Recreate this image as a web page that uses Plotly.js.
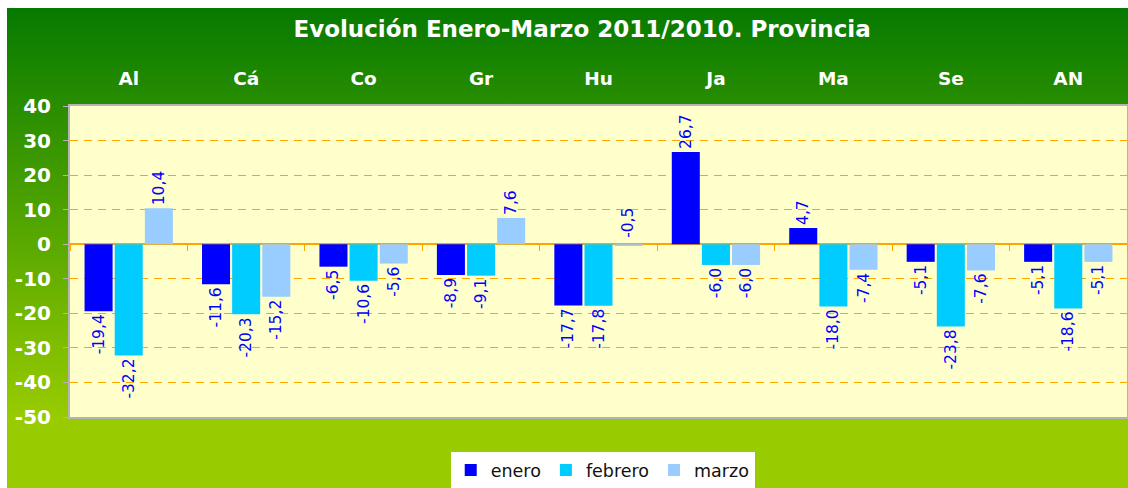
<!DOCTYPE html>
<html>
<head>
<meta charset="utf-8">
<script src="https://cdn.plot.ly/plotly-3.0.1.min.js"></script>
<style>
  html, body { margin: 0; padding: 0; background: #ffffff; }
  #chart {
    position: absolute; left: 7px; top: 8px; width: 1121px; height: 480px;
    background: linear-gradient(to bottom, #067a00 0%, #99cc00 86%, #99cc00 100%);
  }
</style>
</head>
<body>
<div id="chart"></div>
<script>
const categories = ["Al", "Cá", "Co", "Gr", "Hu", "Ja", "Ma", "Se", "AN"];
const enero   = [-19.4, -11.6, -6.5, -8.9, -17.7, 26.7,  4.7, -5.1,  -5.1];
const febrero = [-32.2, -20.3, -10.6, -9.1, -17.8, -6.0, -18.0, -23.8, -18.6];
const marzo   = [ 10.4, -15.2, -5.6,  7.6,  -0.5, -6.0, -7.4, -7.6,  -5.1];
const seriesNames = ["enero", "febrero", "marzo"];
const seriesColors = ["#0000ff", "#00ccff", "#99ccff"];
const yTicks = [40, 30, 20, 10, 0, -10, -20, -30, -40, -50];
const yMin = -50, yMax = 40;

const bargap = 0.23, bargroupgap = 0.07;
const labelFont = {family: "DejaVu Sans", size: 15.5, color: "#0000ff"};

// Small values that Excel places above the axis
function positions(vals) {
  return vals.map(v => (v < 0 && v > -1) ? "none" : "outside");
}

const allSeries = [enero, febrero, marzo];
const traces = allSeries.map((vals, i) => ({
  type: "bar",
  name: seriesNames[i],
  x: categories,
  y: vals,
  marker: {color: seriesColors[i]},
  texttemplate: "%{y:.1f}",
  textposition: positions(vals),
  textangle: -90,
  textfont: labelFont,
  constraintext: "none",
  cliponaxis: false,
  hoverinfo: "x+y"
}));

// dummy trace to host the zero-line tick axis
traces.push({type: "scatter", x: [], y: [], xaxis: "x2", yaxis: "y", showlegend: false, hoverinfo: "skip"});

// annotations for tiny negative values (drawn above zero like the original)
const annotations = [];
const plotW = 1121 - 63 - 1;
const catW = plotW / categories.length;
const slot = catW * (1 - bargap) / allSeries.length;
allSeries.forEach((vals, si) => {
  vals.forEach((v, ci) => {
    if (v < 0 && v > -1) {
      annotations.push({
        x: categories[ci], y: 0, xref: "x", yref: "y",
        text: v.toFixed(1).replace(".", ","),
        showarrow: false, textangle: -90, yanchor: "bottom", yshift: 4,
        xshift: (si - (allSeries.length - 1) / 2) * slot,
        font: labelFont
      });
    }
  });
});

const boundaryTicks = [];
for (let i = 0; i <= categories.length; i++) boundaryTicks.push(i - 0.5);

const layout = {
  width: 1121, height: 480,
  paper_bgcolor: "rgba(0,0,0,0)",
  plot_bgcolor: "#ffffcc",
  margin: {l: 63, r: 1, t: 98, b: 70},
  separators: ",.",
  barmode: "group",
  bargap: bargap,
  bargroupgap: bargroupgap,
  title: {
    text: "Evolución Enero-Marzo 2011/2010. Provincia",
    font: {family: "DejaVu Sans", size: 23, color: "#ffffff", weight: "bold"},
    xref: "container", x: 0.513, xanchor: "center",
    yref: "container", y: 1 - 21 / 480, yanchor: "middle"
  },
  xaxis: {
    type: "category",
    categoryorder: "array", categoryarray: categories,
    side: "top",
    showgrid: false, zeroline: false,
    showline: true, mirror: true, linecolor: "#b4b4b4", linewidth: 2,
    ticks: "", ticklabelstandoff: 12,
    tickfont: {family: "DejaVu Sans", size: 18.5, color: "#ffffff", weight: "bold"},
    fixedrange: true
  },
  xaxis2: {
    overlaying: "x", anchor: "free",
    position: (0 - yMin) / (yMax - yMin),
    range: [-0.5, categories.length - 0.5],
    tickmode: "array", tickvals: boundaryTicks,
    showticklabels: false, ticks: "outside", ticklen: 6, tickwidth: 1, tickcolor: "#ffa500",
    showgrid: false, zeroline: false, showline: false,
    fixedrange: true
  },
  yaxis: {
    range: [yMin, yMax],
    tickmode: "array", tickvals: yTicks,
    ticktext: yTicks.map(String),
    showgrid: true, gridcolor: "#ffa500", gridwidth: 1, griddash: "8px,6px",
    zeroline: true, zerolinecolor: "#ffa500", zerolinewidth: 2,
    showline: true, mirror: true, linecolor: "#b4b4b4", linewidth: 2,
    ticks: "outside", ticklen: 5, tickcolor: "#b4b4b4",
    ticklabelstandoff: 8,
    tickfont: {family: "DejaVu Sans", size: 20, color: "#ffffff", weight: "bold"},
    fixedrange: true
  },
  showlegend: true,
  legend: {
    orientation: "h",
    x: 0.504, xanchor: "center",
    y: -0.109, yanchor: "top",
    bgcolor: "#ffffff", borderwidth: 0,
    font: {family: "DejaVu Sans", size: 17.5, color: "#111111"},
    itemclick: false, itemdoubleclick: false,
    tracegroupgap: 0
  },
  annotations: annotations
};

Plotly.newPlot("chart", traces, layout, {displayModeBar: false, staticPlot: true});
</script>
</body>
</html>
